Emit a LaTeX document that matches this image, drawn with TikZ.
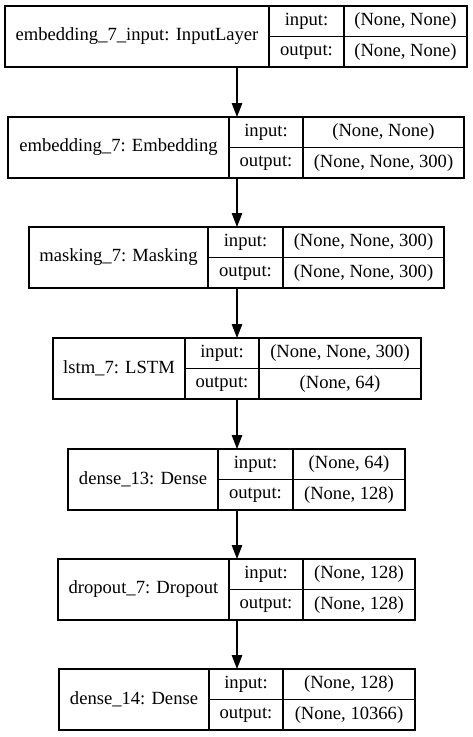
\documentclass[tikz,border=0pt]{standalone}
\usepackage{fontspec}
\setmainfont{Liberation Serif}
\usetikzlibrary{arrows.meta}

\begin{document}
\begin{tikzpicture}[x=1pt, y=-1pt,
    cell/.style={rectangle, draw, line width=1.3pt, inner sep=0pt, outer sep=0pt, anchor=north west, font=\fontsize{18.6}{22}\selectfont},
    frame/.style={rectangle, draw, line width=1.3pt, inner sep=0pt, outer sep=0pt, anchor=north west, minimum height=61pt},
    flow/.style={-{Triangle[length=14pt, width=10.5pt]}, line width=1.3pt},
]
    \fill[white] (0,0) rectangle (473,737);
    \useasboundingbox (0,0) rectangle (473,737);
    \coordinate (axis) at (237,0);
    % one record per layer: name | input/output | shapes
    \foreach \n/\l/\a/\b/\r/\t/\txt/\inp/\outp in {
        inp/5/269/344/467/6/{embedding\_7\_input: InputLayer}/{(None, None)}/{(None, None)},
        emb/8/229/303/464/117/{embedding\_7: Embedding}/{(None, None)}/{(None, None, 300)},
        mask/29/208/283/444/227/{masking\_7: Masking}/{(None, None, 300)}/{(None, None, 300)},
        lstm/53/185/259/421/338/{lstm\_7: LSTM}/{(None, None, 300)}/{(None, 64)},
        dense13/68/218/293/405/449/{dense\_13: Dense}/{(None, 64)}/{(None, 128)},
        drop/58/229/303/415/559/{dropout\_7: Dropout}/{(None, 128)}/{(None, 128)},
        dense14/59/209/283/415/669/{dense\_14: Dense}/{(None, 128)}/{(None, 10366)}
    }{
        \node[frame, minimum width={(\r-\l)*1pt}] (\n) at (\l,\t) {};
        \node[cell, minimum width={(\a-\l)*1pt}, minimum height=61pt] (\n-name) at (\l,\t) {\txt};
        \node[cell, minimum width={(\b-\a)*1pt}, minimum height=30.5pt] (\n-il) at (\a,\t) {input:};
        \node[cell, minimum width={(\r-\b)*1pt}, minimum height=30.5pt] (\n-iv) at (\b,\t) {\inp};
        \node[cell, minimum width={(\b-\a)*1pt}, minimum height=30.5pt] (\n-ol) at (\a,\t+30.5) {output:};
        \node[cell, minimum width={(\r-\b)*1pt}, minimum height=30.5pt] (\n-ov) at (\b,\t+30.5) {\outp};
    }
    \foreach \u/\v in {inp/emb, emb/mask, mask/lstm, lstm/dense13, dense13/drop, drop/dense14}
        \draw[flow] (\u.south -| axis) -- (\v.north -| axis);
\end{tikzpicture}
\end{document}
